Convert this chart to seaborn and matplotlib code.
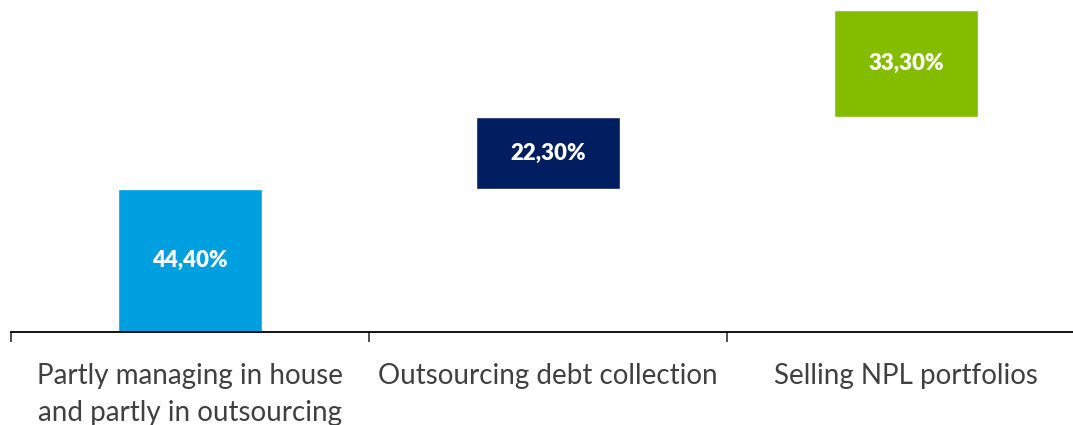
import matplotlib
matplotlib.use("Agg")
import matplotlib.pyplot as plt
import seaborn as sns
import pandas as pd

categories = [
    "Partly managing in house\nand partly in outsourcing",
    "Outsourcing debt collection",
    "Selling NPL portfolios",
]
values = [44.4, 22.3, 33.3]
colors = ["#009FDF", "#001E60", "#84BD00"]

sns.set_theme(style="white")
plt.rcParams["font.family"] = ["Lato", "DejaVu Sans"]

fig = plt.figure(figsize=(10.73, 4.25), dpi=100)
ax = fig.add_axes([11 / 1073, 93 / 425, 1074 / 1073, 322 / 425])

bottom = 0.0
for cat, val, col in zip(categories, values, colors):
    df = pd.DataFrame({"category": [cat], "share": [val]})
    sns.barplot(data=df, x="category", y="share", order=categories,
                color=col, saturation=1, width=0.4, bottom=bottom,
                errorbar=None, ax=ax)
    ax.text(categories.index(cat), bottom + val / 2,
            f"{val:.2f}".replace(".", ",") + "%",
            ha="center", va="center", color="white",
            fontsize=16, fontweight="heavy")
    bottom += val

ax.set_xlim(-0.5, 2.5)
ax.set_ylim(0, 100)
ax.set_xlabel("")
ax.set_ylabel("")
ax.set_yticks([])
for side in ["top", "right", "left"]:
    ax.spines[side].set_visible(False)
ax.spines["bottom"].set_color("#000000")
ax.spines["bottom"].set_linewidth(1.3)

ax.set_xticks(range(len(categories)))
ax.set_xticklabels(categories, fontsize=20, color="#404040", linespacing=1.55)
ax.tick_params(axis="x", which="major", length=0, pad=22)
ax.set_xticks([-0.5, 0.5, 1.5, 2.5], minor=True)
ax.tick_params(axis="x", which="minor", length=7, width=1.3,
               color="#404040", direction="out", bottom=True)

fig.savefig("out.png", dpi=100)
